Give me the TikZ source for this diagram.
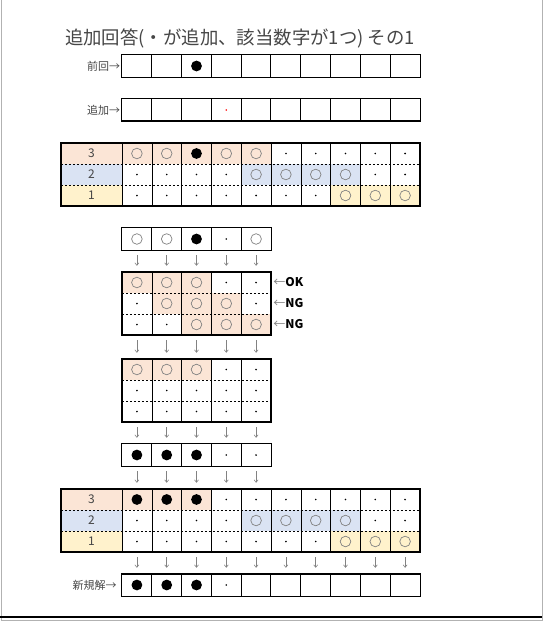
\documentclass[tikz,border=0pt]{standalone}
\usepackage{fontspec}
\setmainfont{Noto Sans CJK JP}
\usepackage{tikz}
\usetikzlibrary{arrows.meta,positioning}
\definecolor{mypeach}{RGB}{251,229,214}
\definecolor{myblue}{RGB}{218,227,243}
\definecolor{myyellow}{RGB}{255,242,204}
\definecolor{mytext}{RGB}{70,70,70}
\definecolor{myring}{RGB}{130,130,130}
\tikzstyle{cell}=[inner sep=0pt,minimum width=29.8pt,minimum height=21pt]
\tikzstyle{ring}=[path picture={\draw[myring,line width=0.7pt] (path picture bounding box.center) circle (5.3pt);}]
\tikzstyle{blk}=[path picture={\fill[black] (path picture bounding box.center) circle (5.4pt);}]
\tikzstyle{dot}=[path picture={\fill[black] (path picture bounding box.center) circle (0.9pt);}]
\tikzstyle{reddot}=[path picture={\fill[red] (path picture bounding box.center) circle (0.9pt);}]
\tikzstyle{nil}=[]
\tikzstyle{pkring}=[ring,fill=mypeach]
\tikzstyle{pkblk}=[blk,fill=mypeach]
\tikzstyle{blring}=[ring,fill=myblue]
\tikzstyle{ylring}=[ring,fill=myyellow]
\tikzstyle{numcell}=[inner sep=0pt,minimum width=61pt,minimum height=21pt,text=mytext,font=\fontsize{12}{12}\selectfont]
\tikzstyle{lbl}=[inner sep=0pt,text=mytext,font=\fontsize{11}{11}\selectfont]
\tikzstyle{okng}=[inner sep=0pt,font=\fontsize{12}{12}\selectfont]
\tikzstyle{inner}=[line width=0.9pt]
\tikzstyle{sep}=[line width=0.9pt,dash pattern=on 2.5pt off 1.5pt]
\tikzstyle{outer}=[line width=2pt]
\tikzstyle{single}=[line width=1.3pt]
\tikzstyle{dnarrow}=[myring,line width=0.6pt,-{Straight Barb[length=2.5pt,width=4pt]},shorten <=5pt,shorten >=6pt]
% one row of cells: name, top, height, contents
\newcommand{\cellrow}[4]{%
  \foreach \s [count=\i] in {#4}
    \node[cell,fill=white,minimum height=#3pt,\s] (#1-\i) at ({107.1+\i*29.8},{#2+#3/2}) {};
}
% frame of a single row: name, cells
\newcommand{\rowbox}[2]{%
  \foreach \i in {2,...,#2} \draw[inner] (#1-\i.north west) -- (#1-\i.south west);
  \draw[single] (#1-1.north west) rectangle (#1-#2.south east);
}
% arrows between two rows: from, to, cells
\newcommand{\downarrows}[3]{%
  \foreach \i in {1,...,#3} \draw[dnarrow] (#1-\i.south) -- (#2-\i.north);
}
\begin{document}
\begin{tikzpicture}[x=1pt,y=-1pt]
\useasboundingbox (0,0) rectangle (544,621);
\draw[gray!60,line width=1pt] (1,0) -- (1,620) -- (542.5,620) -- (542.5,0);
\draw[line width=1.5pt] (0,617) -- (541.5,617);
\node[text=mytext,inner sep=0pt,font=\fontsize{18.4}{18.4}\selectfont] (ttl) at (240,38) {追加回答(・が追加、該当数字が1つ) その1};

% previous / added
\cellrow{pv}{55}{22}{nil,nil,blk,nil,nil,nil,nil,nil,nil,nil}
\rowbox{pv}{10}
\node[lbl,left=1.5pt of pv-1] (pvlbl) {前回→};
\cellrow{ad}{99}{22}{nil,nil,nil,reddot,nil,nil,nil,nil,nil,nil}
\rowbox{ad}{10}
\draw[outer] (ad-1.south west) -- (ad-10.south east);
\node[lbl,left=1.5pt of ad-1] (adlbl) {追加→};

% first table
\node[numcell,fill=mypeach] (a3-0) at (91.5,153.5) {3};
\node[numcell,fill=myblue] (a2-0) at (91.5,174.5) {2};
\node[numcell,fill=myyellow] (a1-0) at (91.5,195.5) {1};
\cellrow{a3}{143}{21}{pkring,pkring,pkblk,pkring,pkring,dot,dot,dot,dot,dot}
\cellrow{a2}{164}{21}{dot,dot,dot,dot,blring,blring,blring,blring,dot,dot}
\cellrow{a1}{185}{21}{dot,dot,dot,dot,dot,dot,dot,ylring,ylring,ylring}
\foreach \i in {0,...,9} \draw[inner] (a3-\i.north east) -- (a1-\i.south east);
\draw[sep] (a3-0.south west) -- (a3-10.south east);
\draw[sep] (a2-0.south west) -- (a2-10.south east);
\draw[outer] (a3-0.north west) rectangle (a1-10.south east);

% candidates
\cellrow{s}{228}{22}{ring,ring,blk,dot,ring}
\rowbox{s}{5}
\cellrow{m1}{272}{21}{pkring,pkring,pkring,dot,dot}
\cellrow{m2}{293}{21}{dot,pkring,pkring,pkring,dot}
\cellrow{m3}{314}{21}{dot,dot,pkring,pkring,pkring}
\foreach \i in {1,...,4} \draw[inner] (m1-\i.north east) -- (m3-\i.south east);
\draw[sep] (m1-1.south west) -- (m1-5.south east);
\draw[sep] (m2-1.south west) -- (m2-5.south east);
\draw[outer] (m1-1.north west) rectangle (m3-5.south east);
\node[okng,right=2pt of m1-5] (ok) {{\color{myring}←}\textbf{OK}};
\node[okng,right=2pt of m2-5] (ng1) {{\color{myring}←}\textbf{NG}};
\node[okng,right=2pt of m3-5] (ng2) {{\color{myring}←}\textbf{NG}};
\downarrows{s}{m1}{5}

\cellrow{n1}{359}{21}{pkring,pkring,pkring,dot,dot}
\cellrow{n2}{380}{21}{dot,dot,dot,dot,dot}
\cellrow{n3}{401}{21}{dot,dot,dot,dot,dot}
\foreach \i in {1,...,4} \draw[inner] (n1-\i.north east) -- (n3-\i.south east);
\draw[sep] (n1-1.south west) -- (n1-5.south east);
\draw[sep] (n2-1.south west) -- (n2-5.south east);
\draw[outer] (n1-1.north west) rectangle (n3-5.south east);
\downarrows{m3}{n1}{5}

\cellrow{k}{444}{22}{blk,blk,blk,dot,dot}
\rowbox{k}{5}
\downarrows{n3}{k}{5}

% second table
\node[numcell,fill=mypeach] (b3-0) at (91.5,499.5) {3};
\node[numcell,fill=myblue] (b2-0) at (91.5,520.5) {2};
\node[numcell,fill=myyellow] (b1-0) at (91.5,541.5) {1};
\cellrow{b3}{489}{21}{pkblk,pkblk,pkblk,dot,dot,dot,dot,dot,dot,dot}
\cellrow{b2}{510}{21}{dot,dot,dot,dot,blring,blring,blring,blring,dot,dot}
\cellrow{b1}{531}{21}{dot,dot,dot,dot,dot,dot,dot,ylring,ylring,ylring}
\foreach \i in {0,...,9} \draw[inner] (b3-\i.north east) -- (b1-\i.south east);
\draw[sep] (b3-0.south west) -- (b3-10.south east);
\draw[sep] (b2-0.south west) -- (b2-10.south east);
\draw[outer] (b3-0.north west) rectangle (b1-10.south east);
\downarrows{k}{b3}{5}

% new solution
\cellrow{nw}{574}{22}{blk,blk,blk,dot,nil,nil,nil,nil,nil,nil}
\rowbox{nw}{10}
\draw[outer] (nw-1.north west) -- (nw-10.north east);
\node[lbl,left=5pt of nw-1] (nwlbl) {新規解→};
\downarrows{b1}{nw}{10}
\end{tikzpicture}
\end{document}
